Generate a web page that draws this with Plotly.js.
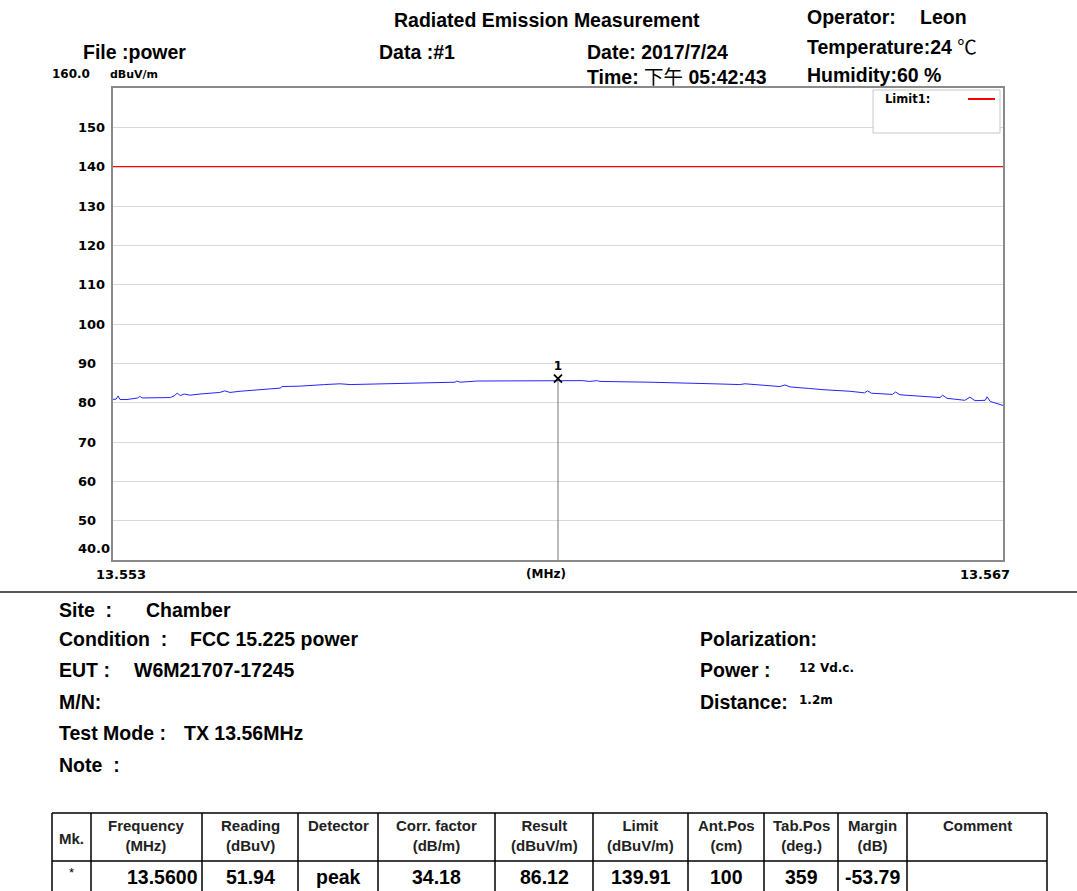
<!DOCTYPE html>
<html>
<head>
<meta charset="utf-8">
<script src="https://cdn.plot.ly/plotly-3.0.1.min.js"></script>
<style>html,body{margin:0;padding:0;background:#fff;}#chart{width:1077px;height:891px;}</style>
</head>
<body>
<div id="chart"></div>
<script>
// ---------- data ----------
const freqMHz = [13.55300,13.55305,13.55308,13.55311,13.55322,13.55335,13.55339,13.55342,13.55346,13.55390,
  13.55396,13.55401,13.55406,13.55412,13.55421,13.55437,13.55453,13.55468,13.55476,13.55484,
  13.55500,13.55531,13.55563,13.55566,13.55594,13.55633,13.55657,13.55673,13.55783,13.55838,
  13.55841,13.55846,13.55873,13.55956,13.56000,13.56038,13.56050,13.56061,13.56066,13.56129,
  13.56137,13.56145,13.56244,13.56286,13.56294,13.56349,13.56357,13.56365,13.56396,13.56417,
  13.56459,13.56482,13.56487,13.56493,13.56526,13.56531,13.56538,13.56569,13.56601,13.56605,
  13.56612,13.56640,13.56648,13.56656,13.56672,13.56675,13.56680,13.56700];
const levelDb = [80.85,80.9,81.7,80.8,80.8,81.0,81.2,81.6,81.2,81.3,
  81.7,82.4,81.8,82.2,81.9,82.2,82.4,82.6,83.0,82.6,
  82.9,83.3,83.7,84.1,84.2,84.6,84.8,84.6,85.1,85.2,
  85.5,85.2,85.5,85.6,85.7,85.6,85.4,85.6,85.4,85.3,
  85.1,85.2,84.8,84.6,84.8,84.1,84.5,84.0,83.6,83.3,
  82.9,82.5,83.0,82.4,82.1,82.7,82.0,81.6,81.3,81.9,
  81.1,80.6,81.4,80.5,80.6,81.5,80.3,79.3];
const limitFreq = [13.553, 13.567];
const limitLevel = [140, 140];
const markerFreq = [13.56];
const markerLevel = [86.12];
const markerLabel = ['<b>1</b>'];
const yTickVals = [150,140,130,120,110,100,90,80,70,60,50];
const yTickText = ['150','140','130','120','110','100','90','80','70','60','50'];
const yTopLabel = '160.0', yBottomLabel = '40.0', yUnit = 'dBuV/m';
const xStart = 13.553, xEnd = 13.567;
const xStartLabel = '13.553', xEndLabel = '13.567', xUnit = '(MHz)';
const tableHeaders = ['Mk.','Frequency<br>(MHz)','Reading<br>(dBuV)','Detector','Corr. factor<br>(dB/m)','Result<br>(dBuV/m)','Limit<br>(dBuV/m)','Ant.Pos<br>(cm)','Tab.Pos<br>(deg.)','Margin<br>(dB)','Comment'];
const tableRow = ['*','13.5600','51.94','peak','34.18','86.12','139.91','100','359','-53.79',''];

// ---------- layout helpers ----------
const W = 1077, H = 891;
const px = x => x / W;
const py = y => 1 - y / H;
const FONT = 'Liberation Sans, Arial, Noto Sans CJK SC, sans-serif';
const SMALL = 'DejaVu Sans, Liberation Sans, sans-serif';
const BIG = 19.5;
const annotations = [];
const shapes = [];
function txt(text, x, y, size, opts, fam) {
  annotations.push(Object.assign({
    text: text, xref: 'paper', yref: 'paper', x: px(x), y: py(y),
    xanchor: 'left', yanchor: 'middle', showarrow: false,
    font: {family: fam || FONT, size: size, color: '#000'}
  }, opts || {}));
}

// header texts
txt('<b>Radiated Emission Measurement</b>', 392, 20, BIG);
txt('<b>File :power</b>', 81, 52, BIG);
txt('<b>Data :#1</b>', 377, 52, BIG);
txt('<b>Date: 2017/7/24</b>', 585, 52, BIG);
txt('<b>Time:</b> 下午 <b>05:42:43</b>', 585, 77, BIG);
txt('<b>Operator:</b>', 805, 17, BIG);
txt('<b>Leon</b>', 918, 17, BIG);
txt('<b>Temperature:24</b> ℃', 805, 47, BIG);
txt('<b>Humidity:60 %</b>', 805, 75, BIG);

// bottom info
txt('<b>Site  :</b>', 57, 610, BIG);
txt('<b>Chamber</b>', 144, 610, BIG);
txt('<b>Condition  :</b>', 57, 639, BIG);
txt('<b>FCC 15.225 power</b>', 188, 639, BIG);
txt('<b>EUT :</b>', 57, 670, BIG);
txt('<b>W6M21707-17245</b>', 132, 670, BIG);
txt('<b>M/N:</b>', 57, 702, BIG);
txt('<b>Test Mode :</b>', 57, 733, BIG);
txt('<b>TX 13.56MHz</b>', 182, 733, BIG);
txt('<b>Note  :</b>', 57, 765, BIG);
txt('<b>Polarization:</b>', 698, 639, BIG);
txt('<b>Power :</b>', 698, 670, BIG);
txt('<b>12 Vd.c.</b>', 797, 668, 12, null, SMALL);
txt('<b>Distance:</b>', 698, 702, BIG);
txt('<b>1.2m</b>', 797, 700, 12, null, SMALL);

// separator line
shapes.push({type:'line', xref:'paper', yref:'paper', x0:0, x1:1, y0:py(592), y1:py(592), line:{color:'#555', width:2}});

// y tick labels (via axis coordinates)
const tickFont = {family:SMALL, size:13, color:'#000'};
yTickVals.forEach((v, i) => {
  annotations.push({text:'<b>'+yTickText[i]+'</b>', xref:'paper', yref:'y', x:px(76), y:v, xanchor:'left', yanchor:'middle', showarrow:false, font:tickFont});
});
annotations.push({text:'<b>'+yTopLabel+'</b>', xref:'paper', yref:'y', x:px(50), y:160, xanchor:'left', yanchor:'bottom', yshift:5, showarrow:false, font:{family:SMALL, size:12, color:'#000'}});
annotations.push({text:'<b>'+yUnit+'</b>', xref:'paper', yref:'y', x:px(108), y:160, xanchor:'left', yanchor:'bottom', yshift:5, showarrow:false, font:{family:SMALL, size:11, color:'#000'}});
annotations.push({text:'<b>'+yBottomLabel+'</b>', xref:'paper', yref:'y', x:px(76), y:40, xanchor:'left', yanchor:'bottom', yshift:2, showarrow:false, font:tickFont});
// x tick labels
annotations.push({text:'<b>'+xStartLabel+'</b>', xref:'x', yref:'paper', x:xStart, y:py(574), xanchor:'center', xshift:8, yanchor:'middle', showarrow:false, font:tickFont});
annotations.push({text:'<b>'+xEndLabel+'</b>', xref:'x', yref:'paper', x:xEnd, y:py(574), xanchor:'right', xshift:9, yanchor:'middle', showarrow:false, font:tickFont});
annotations.push({text:'<b>'+xUnit+'</b>', xref:'x', yref:'paper', x:markerFreq[0], y:py(574), xanchor:'center', xshift:-12, yanchor:'middle', showarrow:false, font:{family:SMALL, size:12, color:'#000'}});

// legend box
shapes.push({type:'rect', xref:'paper', yref:'paper', x0:px(873), x1:px(1000), y0:py(133), y1:py(90), line:{color:'#c8c8c8', width:1}, fillcolor:'#fff'});
shapes.push({type:'line', xref:'paper', yref:'paper', x0:px(968), x1:px(995), y0:py(99), y1:py(99), line:{color:'#ff0000', width:2}});
txt('<b>Limit1:</b>', 883, 99, 11.5, null, SMALL);

// table
const colEdges = [52,91,202,298,378,495,593,688,764,838,907,1047];
const tTop = 813, tMid = 861, tBot = 900;
shapes.push({type:'line', xref:'paper', yref:'paper', x0:px(52), x1:px(1047), y0:py(tTop), y1:py(tTop), line:{color:'#000', width:1.5}});
shapes.push({type:'line', xref:'paper', yref:'paper', x0:px(52), x1:px(1047), y0:py(tMid), y1:py(tMid), line:{color:'#000', width:1.5}});
colEdges.forEach(e => {
  shapes.push({type:'line', xref:'paper', yref:'paper', x0:px(e), x1:px(e), y0:py(tTop), y1:py(tBot), line:{color:'#000', width:1.5}});
});
tableHeaders.forEach((h, i) => {
  const cx = (colEdges[i] + colEdges[i+1]) / 2;
  annotations.push({text:'<b>'+h+'</b>', xref:'paper', yref:'paper', x:px(cx), y: (i===0) ? py(838) : py(815),
    xanchor:'center', yanchor: (i===0) ? 'middle' : 'top', showarrow:false, align:'center',
    font:{family:FONT, size:15, color:'#222'}});
});
tableRow.forEach((v, i) => {
  if (!v) return;
  const cx = (colEdges[i] + colEdges[i+1]) / 2;
  if (i === 1) {
    annotations.push({text:'<b>'+v+'</b>', xref:'paper', yref:'paper', x:px(colEdges[i+1]-2), y:py(877), xanchor:'right', yanchor:'middle', showarrow:false, font:{family:FONT, size:19.5, color:'#000'}});
  } else {
    annotations.push({text: i===0 ? v : '<b>'+v+'</b>', xref:'paper', yref:'paper', x:px(cx), y: i===0 ? py(872) : py(877), xanchor:'center', yanchor:'middle', showarrow:false, font:{family:FONT, size: i===0 ? 13 : 19.5, color:'#000'}});
  }
});

// ---------- traces ----------
const traces = [
  {x: limitFreq, y: limitLevel, mode:'lines', line:{color:'#ff0000', width:1.2}, hoverinfo:'skip', name:'Limit1'},
  {x: freqMHz, y: levelDb, mode:'lines', line:{color:'#2424ff', width:1}, name:'Level'},
  {x: [markerFreq[0], markerFreq[0]], y: [40, markerLevel[0]], mode:'lines', line:{color:'#777', width:1}, hoverinfo:'skip'},
  {x: markerFreq, y: markerLevel, mode:'markers+text', text: markerLabel, textposition:'top center',
   textfont:{family:SMALL, size:12, color:'#000'},
   marker:{symbol:'x-thin', size:8, line:{color:'#000', width:1.8}, color:'#000'}, name:'Marker'}
];

const layout = {
  width: W, height: H,
  margin: {l:0, r:0, t:0, b:0},
  paper_bgcolor:'#fff', plot_bgcolor:'#fff',
  showlegend: false,
  xaxis: {domain:[px(113), px(1003)], range:[xStart, xEnd], showgrid:false, zeroline:false,
          showticklabels:false, ticks:'', showline:true, mirror:true, linecolor:'#8a8a8a', linewidth:2},
  yaxis: {domain:[py(560), py(88)], range:[40, 160], tickvals: yTickVals, showgrid:true, gridcolor:'#d8d8d8', gridwidth:1,
          zeroline:false, showticklabels:false, ticks:'', showline:true, mirror:true, linecolor:'#8a8a8a', linewidth:2},
  annotations: annotations,
  shapes: shapes
};
Plotly.newPlot('chart', traces, layout, {staticPlot:true, displayModeBar:false});
</script>
</body>
</html>
